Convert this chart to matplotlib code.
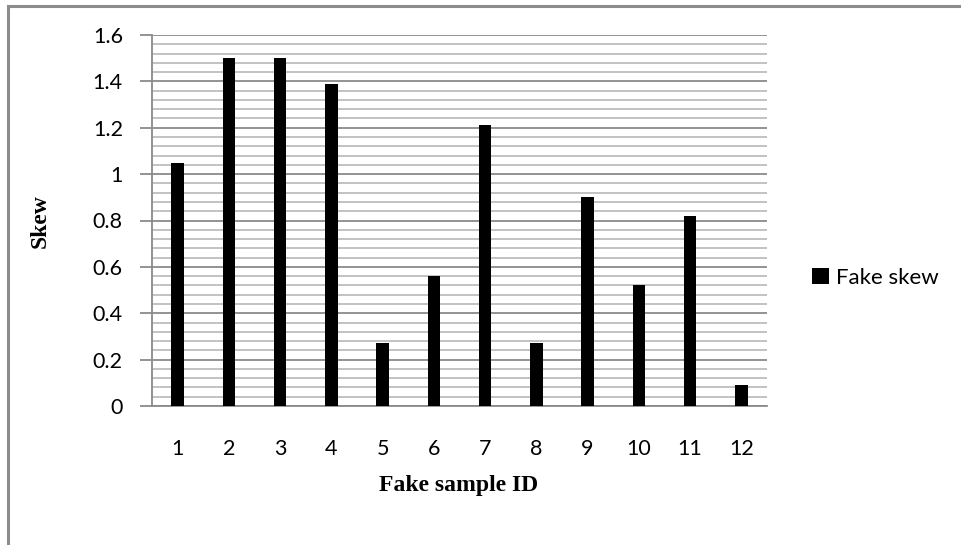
import numpy as np
import matplotlib.pyplot as plt
from matplotlib.patches import Rectangle
from matplotlib.ticker import MultipleLocator

# dados
sample_ids = ['1', '2', '3', '4', '5', '6', '7', '8', '9', '10', '11', '12']
fake_skew = [1.05, 1.50, 1.50, 1.39, 0.27, 0.56, 1.21, 0.27, 0.90, 0.52, 0.82, 0.09]
y_ticks = [0, 0.2, 0.4, 0.6, 0.8, 1.0, 1.2, 1.4, 1.6]
y_labels = ['0', '0.2', '0.4', '0.6', '0.8', '1', '1.2', '1.4', '1.6']

fig = plt.figure(figsize=(9.62, 5.45), dpi=100)
ax = fig.add_axes([152 / 962, 1 - 406 / 545, (767 - 152) / 962, (406 - 35) / 545])

# moldura cinza da figura (cortada a direita e embaixo)
fig.patches.append(Rectangle((8 / 962, -0.1), 1.1, 1 - 6 / 545 + 0.1,
                             transform=fig.transFigure, fill=False,
                             edgecolor='#8c8c8c', linewidth=2.2))

x = np.arange(len(sample_ids))
ax.bar(x, fake_skew, width=0.24, color='black', label='Fake skew', zorder=3)

ax.set_xlim(-0.5, len(sample_ids) - 0.5)
ax.set_ylim(0, 1.6)
ax.yaxis.set_minor_locator(MultipleLocator(0.04))
ax.set_xticks(x)
ax.set_xticklabels(sample_ids)
ax.set_yticks(y_ticks)
ax.set_yticklabels(y_labels)

ax.grid(which='major', axis='y', color='#8a8a8a', linewidth=1.3, zorder=0)
ax.grid(which='minor', axis='y', color='#bdbdbd', linewidth=1.3, zorder=0)

for s in ['top', 'right']:
    ax.spines[s].set_visible(False)
for s in ['left', 'bottom']:
    ax.spines[s].set_color('#8a8a8a')
    ax.spines[s].set_linewidth(1.3)

ax.tick_params(axis='y', which='major', length=9, width=1.3, color='#8a8a8a',
               labelsize=15.5, pad=12)
ax.tick_params(axis='y', which='minor', length=0)
ax.tick_params(axis='x', length=0, labelsize=15.5, pad=24)
for lbl in ax.get_xticklabels() + ax.get_yticklabels():
    lbl.set_family('Lato')

ax.set_xlabel('Fake sample ID', family='Liberation Serif', fontweight='bold',
              fontsize=17, va='center')
ax.set_ylabel('Skew', family='Liberation Serif', fontweight='bold',
              fontsize=17, va='center')
ax.xaxis.set_label_coords((459 - 152) / 615, (406 - 486) / 371)
ax.yaxis.set_label_coords((40 - 152) / 615, (406 - 221) / 371)

ax.legend(loc='center left', bbox_to_anchor=((812 - 152) / 615, (406 - 278) / 371),
          frameon=False, borderaxespad=0, borderpad=0,
          prop={'family': 'Lato', 'size': 16}, handlelength=0.75,
          handleheight=0.75, handletextpad=0.35)

fig.savefig('out.png', dpi=100)
